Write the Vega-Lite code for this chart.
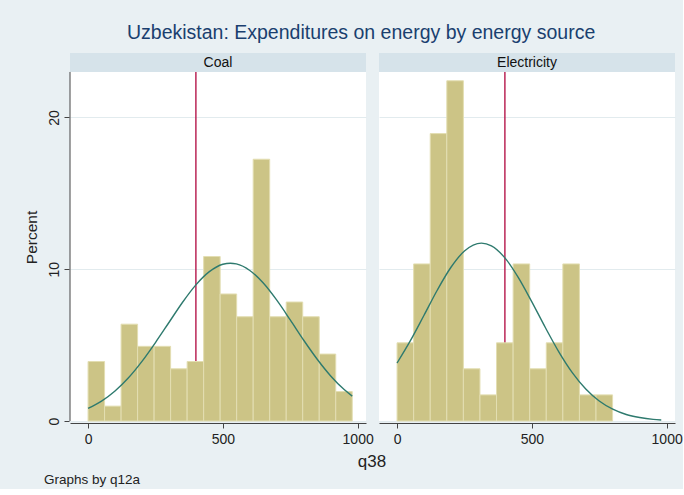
{
  "$schema": "https://vega.github.io/schema/vega-lite/v6.json",
  "background": "#e9f0f3",
  "padding": {"left": 24, "top": 22, "right": 0, "bottom": 2},
  "title": {
    "text": "Uzbekistan: Expenditures on energy by energy source",
    "fontSize": 19.5,
    "font": "Liberation Sans",
    "fontWeight": "normal",
    "color": "#1a3f6f",
    "anchor": "middle",
    "offset": 10,
    "dx": 8
  },
  "config": {
    "font": "Liberation Sans",
    "view": {"fill": "white", "stroke": null},
    "axis": {
      "labelFont": "Liberation Sans",
      "labelFontSize": 14,
      "labelColor": "#222222",
      "titleFont": "Liberation Sans",
      "titleFontWeight": "normal",
      "titleColor": "#222222",
      "tickColor": "#444444",
      "domainColor": "#444444",
      "tickSize": 5
    }
  },
  "vconcat": [
    {
      "title": {
        "text": "Graphs by q12a",
        "orient": "bottom",
        "anchor": "start",
        "frame": "bounds",
        "fontSize": 13.5,
        "fontWeight": "normal",
        "font": "Liberation Sans",
        "color": "#222222",
        "dx": 20,
        "offset": 3
      },
      "data": {
        "values": [
          {"source": "Coal", "kind": "bar", "b0": 0, "b1": 61.25, "pct": 3.92},
          {"source": "Coal", "kind": "bar", "b0": 61.25, "b1": 122.5, "pct": 0.98},
          {"source": "Coal", "kind": "bar", "b0": 122.5, "b1": 183.75, "pct": 6.38},
          {"source": "Coal", "kind": "bar", "b0": 183.75, "b1": 245, "pct": 4.92},
          {"source": "Coal", "kind": "bar", "b0": 245, "b1": 306.25, "pct": 4.92},
          {"source": "Coal", "kind": "bar", "b0": 306.25, "b1": 367.5, "pct": 3.44},
          {"source": "Coal", "kind": "bar", "b0": 367.5, "b1": 428.75, "pct": 3.92},
          {"source": "Coal", "kind": "bar", "b0": 428.75, "b1": 490, "pct": 10.84},
          {"source": "Coal", "kind": "bar", "b0": 490, "b1": 551.25, "pct": 8.37},
          {"source": "Coal", "kind": "bar", "b0": 551.25, "b1": 612.5, "pct": 6.87},
          {"source": "Coal", "kind": "bar", "b0": 612.5, "b1": 673.75, "pct": 17.25},
          {"source": "Coal", "kind": "bar", "b0": 673.75, "b1": 735, "pct": 6.87},
          {"source": "Coal", "kind": "bar", "b0": 735, "b1": 796.25, "pct": 7.84},
          {"source": "Coal", "kind": "bar", "b0": 796.25, "b1": 857.5, "pct": 6.87},
          {"source": "Coal", "kind": "bar", "b0": 857.5, "b1": 918.75, "pct": 4.41},
          {"source": "Coal", "kind": "bar", "b0": 918.75, "b1": 980, "pct": 1.94},
          {"source": "Electricity", "kind": "bar", "b0": 0, "b1": 61.5, "pct": 5.15},
          {"source": "Electricity", "kind": "bar", "b0": 61.5, "b1": 123, "pct": 10.35},
          {"source": "Electricity", "kind": "bar", "b0": 123, "b1": 184.5, "pct": 18.94},
          {"source": "Electricity", "kind": "bar", "b0": 184.5, "b1": 246, "pct": 22.42},
          {"source": "Electricity", "kind": "bar", "b0": 246, "b1": 307.5, "pct": 3.44},
          {"source": "Electricity", "kind": "bar", "b0": 307.5, "b1": 369, "pct": 1.72},
          {"source": "Electricity", "kind": "bar", "b0": 369, "b1": 430.5, "pct": 5.15},
          {"source": "Electricity", "kind": "bar", "b0": 430.5, "b1": 492, "pct": 10.35},
          {"source": "Electricity", "kind": "bar", "b0": 492, "b1": 553.5, "pct": 3.44},
          {"source": "Electricity", "kind": "bar", "b0": 553.5, "b1": 615, "pct": 5.15},
          {"source": "Electricity", "kind": "bar", "b0": 615, "b1": 676.5, "pct": 10.35},
          {"source": "Electricity", "kind": "bar", "b0": 676.5, "b1": 738, "pct": 1.72},
          {"source": "Electricity", "kind": "bar", "b0": 738, "b1": 799.5, "pct": 1.72},
          {"source": "Coal", "kind": "curve", "x": 0, "y": 0.83},
          {"source": "Coal", "kind": "curve", "x": 50, "y": 1.31},
          {"source": "Coal", "kind": "curve", "x": 100, "y": 1.98},
          {"source": "Coal", "kind": "curve", "x": 150, "y": 2.85},
          {"source": "Coal", "kind": "curve", "x": 200, "y": 3.93},
          {"source": "Coal", "kind": "curve", "x": 250, "y": 5.17},
          {"source": "Coal", "kind": "curve", "x": 300, "y": 6.49},
          {"source": "Coal", "kind": "curve", "x": 350, "y": 7.81},
          {"source": "Coal", "kind": "curve", "x": 400, "y": 8.97},
          {"source": "Coal", "kind": "curve", "x": 450, "y": 9.84},
          {"source": "Coal", "kind": "curve", "x": 500, "y": 10.33},
          {"source": "Coal", "kind": "curve", "x": 528, "y": 10.4},
          {"source": "Coal", "kind": "curve", "x": 550, "y": 10.35},
          {"source": "Coal", "kind": "curve", "x": 600, "y": 9.92},
          {"source": "Coal", "kind": "curve", "x": 650, "y": 9.09},
          {"source": "Coal", "kind": "curve", "x": 700, "y": 7.96},
          {"source": "Coal", "kind": "curve", "x": 750, "y": 6.66},
          {"source": "Coal", "kind": "curve", "x": 800, "y": 5.32},
          {"source": "Coal", "kind": "curve", "x": 850, "y": 4.07},
          {"source": "Coal", "kind": "curve", "x": 900, "y": 2.97},
          {"source": "Coal", "kind": "curve", "x": 950, "y": 2.07},
          {"source": "Coal", "kind": "curve", "x": 980, "y": 1.64},
          {"source": "Electricity", "kind": "curve", "x": 0, "y": 3.82},
          {"source": "Electricity", "kind": "curve", "x": 50, "y": 5.31},
          {"source": "Electricity", "kind": "curve", "x": 100, "y": 6.97},
          {"source": "Electricity", "kind": "curve", "x": 150, "y": 8.65},
          {"source": "Electricity", "kind": "curve", "x": 200, "y": 10.13},
          {"source": "Electricity", "kind": "curve", "x": 250, "y": 11.2},
          {"source": "Electricity", "kind": "curve", "x": 313, "y": 11.72},
          {"source": "Electricity", "kind": "curve", "x": 350, "y": 11.54},
          {"source": "Electricity", "kind": "curve", "x": 400, "y": 10.75},
          {"source": "Electricity", "kind": "curve", "x": 450, "y": 9.45},
          {"source": "Electricity", "kind": "curve", "x": 500, "y": 7.85},
          {"source": "Electricity", "kind": "curve", "x": 550, "y": 6.16},
          {"source": "Electricity", "kind": "curve", "x": 600, "y": 4.56},
          {"source": "Electricity", "kind": "curve", "x": 650, "y": 3.19},
          {"source": "Electricity", "kind": "curve", "x": 700, "y": 2.11},
          {"source": "Electricity", "kind": "curve", "x": 750, "y": 1.32},
          {"source": "Electricity", "kind": "curve", "x": 800, "y": 0.78},
          {"source": "Electricity", "kind": "curve", "x": 850, "y": 0.43},
          {"source": "Electricity", "kind": "curve", "x": 900, "y": 0.23},
          {"source": "Electricity", "kind": "curve", "x": 950, "y": 0.11},
          {"source": "Electricity", "kind": "curve", "x": 980, "y": 0.07},
          {"source": "Coal", "kind": "mean", "x": 400},
          {"source": "Electricity", "kind": "mean", "x": 400},
          {"source": "Coal", "kind": "strip"},
          {"source": "Electricity", "kind": "strip"},
          {"source": "Coal", "kind": "yaxis"}
        ]
      },
      "facet": {
        "column": {
          "field": "source",
          "type": "nominal",
          "title": "q38",
          "header": {
            "labels": false,
            "titleOrient": "bottom",
            "titleFontSize": 17,
            "titleFont": "Liberation Sans",
            "titleFontWeight": "normal",
            "titleColor": "#222222",
            "titlePadding": -2
          }
        }
      },
      "spacing": 13,
      "spec": {
        "width": 296,
        "height": 368,
        "layer": [
          {
            "transform": [{"filter": "datum.kind === 'mean'"}],
            "mark": {"type": "rule", "color": "#b5174b", "strokeWidth": 1.4},
            "encoding": {
              "x": {"field": "x", "type": "quantitative", "scale": {"domain": [-67, 1031], "nice": false, "zero": false}, "axis": {"values": [0, 500, 1000], "format": "d", "title": null, "grid": false, "labelPadding": 4}},
              "y": {"datum": 0, "type": "quantitative", "scale": {"domain": [0, 24.25], "nice": false, "zero": false}, "axis": {"values": [0, 10, 20], "title": "Percent", "titleFontSize": 15.5, "labelAngle": -90, "domain": false, "grid": true, "gridColor": "#e2ebee", "titlePadding": 8, "labelPadding": 3}},
              "y2": {"datum": 23}
            }
          },
          {
            "transform": [{"filter": "datum.kind === 'bar'"}],
            "mark": {"type": "bar", "fill": "#ccc486", "stroke": "#e3deb2", "strokeWidth": 1},
            "encoding": {
              "x": {"field": "b0", "type": "quantitative"},
              "x2": {"field": "b1"},
              "y": {"field": "pct", "type": "quantitative"},
              "y2": {"datum": 0}
            }
          },
          {
            "transform": [{"filter": "datum.kind === 'curve'"}],
            "mark": {"type": "line", "color": "#2e7a6e", "strokeWidth": 1.4, "interpolate": "monotone"},
            "encoding": {
              "x": {"field": "x", "type": "quantitative"},
              "y": {"field": "y", "type": "quantitative"}
            }
          },
          {
            "transform": [{"filter": "datum.kind === 'strip'"}],
            "mark": {"type": "rect", "fill": "#d6e3ea"},
            "encoding": {
              "x": {"datum": -67, "type": "quantitative"},
              "x2": {"datum": 1031},
              "y": {"datum": 23, "type": "quantitative"},
              "y2": {"datum": 24.25}
            }
          },
          {
            "transform": [{"filter": "datum.kind === 'strip'"}],
            "mark": {"type": "text", "fontSize": 14, "font": "Liberation Sans", "color": "#111111", "baseline": "middle"},
            "encoding": {
              "x": {"datum": 482, "type": "quantitative"},
              "y": {"datum": 23.62, "type": "quantitative"},
              "text": {"field": "source"}
            }
          },
          {
            "transform": [{"filter": "datum.kind === 'yaxis'"}],
            "mark": {"type": "rule", "color": "#444444", "strokeWidth": 1},
            "encoding": {
              "x": {"datum": -67, "type": "quantitative"},
              "y": {"datum": 0, "type": "quantitative"},
              "y2": {"datum": 23}
            }
          }
        ]
      }
    }
  ]
}
